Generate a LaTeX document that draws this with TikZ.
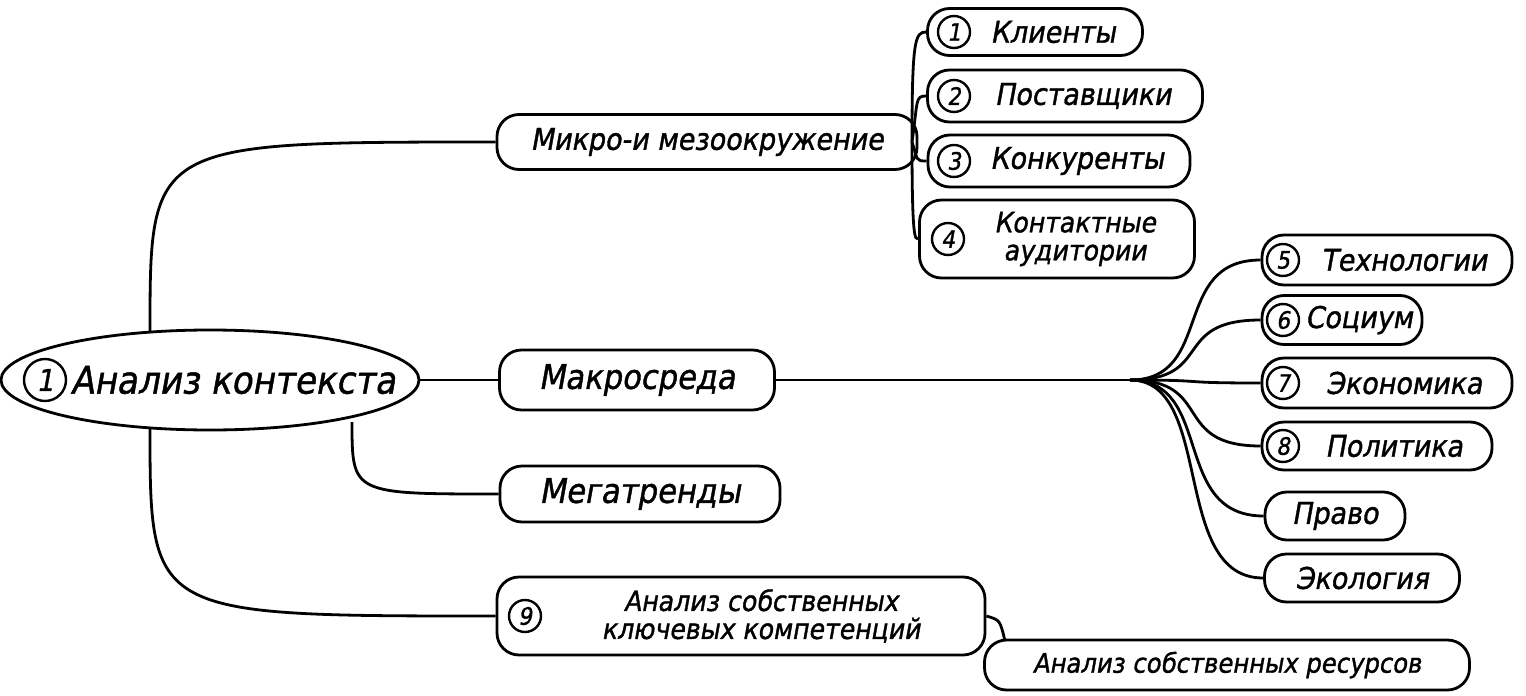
\documentclass[tikz,border=0pt]{standalone}
\usepackage{fontspec}
\usetikzlibrary{shapes.geometric}
\setmainfont{DejaVu Sans Condensed}[FakeSlant=0.18,FakeBold=1.2]
\begin{document}
\begin{tikzpicture}[x=1pt,y=-1pt,line width=2.8pt,
  box/.style={draw,rounded corners=22pt,minimum height=50pt,align=center,font=\fontsize{30}{30}\selectfont,inner xsep=8pt},
  num/.style={draw,circle,inner sep=1pt,minimum size=32pt,font=\fontsize{24}{24}\selectfont,line width=2.4pt}]
\useasboundingbox (0,0) rectangle (1526,696);
\node[draw,ellipse,minimum width=418pt,minimum height=100pt] (main) at (210,380) {};
\node[num,minimum size=42pt,font=\fontsize{30}{30}\selectfont] (n0) at (45,380) {1};
\node[font=\fontsize{38}{38}\selectfont,anchor=west] (mt) at (66,380) {Анализ контекста};
\node[box,minimum width=420pt,minimum height=55pt] (micro) at (707,142) {Микро-и мезоокружение};
\node[box,minimum width=215pt,minimum height=47pt] (k1) at (1035,32) {\hspace*{36pt}Клиенты};
\node[box,minimum width=275pt,minimum height=52pt] (k2) at (1065,96) {\hspace*{36pt}Поставщики};
\node[box,minimum width=262pt,minimum height=52pt] (k3) at (1059,161) {\hspace*{36pt}Конкуренты};
\node[box,minimum width=275pt,minimum height=78pt,font=\fontsize{28}{28}\selectfont] (k4) at (1057,239) {\hspace*{36pt}Контактные\\\hspace*{36pt}аудитории};
\node[num] at (954,32) {1};
\node[num] at (954,96) {2};
\node[num] at (954,161) {3};
\node[num] at (948,239) {4};
\node[box,minimum width=275pt,minimum height=60pt,font=\fontsize{34}{34}\selectfont] (macro) at (637,380) {Макросреда};
\node[box,minimum width=280pt,minimum height=56pt,font=\fontsize{34}{34}\selectfont] (mega) at (640,494) {Мегатренды};
\node[box,minimum width=488pt,minimum height=78pt,font=\fontsize{28}{28}\selectfont] (comp) at (741,616) {\hspace*{40pt}Анализ собственных\\\hspace*{40pt}ключевых компетенций};
\node[num] at (525,616) {9};
\node[box,minimum width=485pt,minimum height=50pt,font=\fontsize{27}{27}\selectfont] (res) at (1227,665) {Анализ собственных ресурсов};
\node[box,minimum width=250pt,minimum height=50pt] (t5) at (1387,260) {\hspace*{34pt}Технологии};
\node[box,minimum width=160pt,minimum height=49pt] (t6) at (1342,320) {\hspace*{34pt}Социум};
\node[box,minimum width=250pt,minimum height=50pt] (t7) at (1387,383) {\hspace*{34pt}Экономика};
\node[box,minimum width=230pt,minimum height=48pt] (t8) at (1377,446) {\hspace*{34pt}Политика};
\node[box,minimum width=140pt,minimum height=48pt] (t9) at (1335,516) {Право};
\node[box,minimum width=195pt,minimum height=48pt] (t10) at (1362,578) {Экология};
\node[num] at (1283,260) {5};
\node[num] at (1283,320) {6};
\node[num] at (1283,383) {7};
\node[num] at (1283,446) {8};
\coordinate (hub) at (1130,380);
\coordinate (mtop) at (150,332);
\coordinate (mbot) at (150,428);
\coordinate (mbr) at (352,422);
\coordinate (mhub) at (912,142);
\coordinate (rtop) at (1005,641);
\draw (mtop) .. controls (150,142) .. (micro.west);
\draw (main.east) -- (macro.west);
\draw (mbr) .. controls (352,494) .. (mega.west);
\draw (mbot) .. controls (150,616) .. (comp.west);
\draw (macro.east) -- (hub);
\foreach \t in {t5,t6,t7,t8,t9,t10} \draw (hub) .. controls (1215,380) and (1170,0 |- \t.west) .. (\t.west);
\draw (mhub) .. controls (912,40) and (915,32) .. (k1.west);
\draw (mhub) .. controls (918,100) and (915,96) .. (k2.west);
\draw (mhub) .. controls (918,160) and (915,161) .. (k3.west);
\draw (mhub) .. controls (912,240) and (915,239) .. (k4.west);
\draw (comp.east) .. controls (1000,620) .. (rtop);
\end{tikzpicture}
\end{document}
